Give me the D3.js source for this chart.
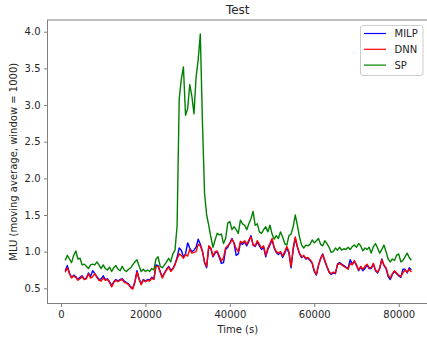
<!DOCTYPE html>
<html><head><meta charset="utf-8">
<script src="https://cdn.jsdelivr.net/npm/d3@7"></script>
<style>body{margin:0;background:#fff;} svg text{font-family:"DejaVu Sans",sans-serif;}</style>
</head><body><svg id="c" width="427" height="341"></svg>
<script>
const tStart = 1000, tStep = 500;
const milpValues = [
0.74,0.81,0.71,0.65,0.68,0.66,0.62,0.65,0.67,0.63,
0.64,0.71,0.66,0.74,0.70,0.66,0.62,0.63,0.67,0.62,
0.63,0.59,0.54,0.59,0.62,0.60,0.62,0.63,0.60,0.58,
0.56,0.52,0.50,0.59,0.74,0.63,0.56,0.62,0.60,0.62,
0.61,0.65,0.63,0.82,0.81,0.73,0.65,0.71,0.76,0.80,
0.75,0.77,0.83,0.92,1.05,1.02,0.93,0.97,1.12,1.05,
1.00,1.02,1.06,1.17,1.10,1.01,0.85,0.78,1.06,1.04,
0.93,0.98,1.00,0.92,0.84,0.85,1.03,1.06,1.12,1.18,
1.11,0.95,0.97,1.12,1.10,1.13,1.08,1.14,1.22,1.09,
1.07,1.13,1.08,1.03,1.06,0.93,1.03,1.09,1.16,1.05,
0.99,0.96,0.99,0.92,0.98,1.05,0.98,0.78,1.03,1.18,
1.06,0.97,0.92,0.94,0.90,0.91,0.88,0.84,0.73,0.68,
0.81,0.91,0.97,0.87,0.79,0.72,0.69,0.71,0.70,0.83,
0.85,0.83,0.81,0.79,0.77,0.89,0.83,0.87,0.81,0.74,
0.79,0.74,0.77,0.82,0.77,0.77,0.83,0.74,0.71,0.77,
0.90,0.81,0.77,0.66,0.62,0.69,0.73,0.70,0.67,0.65,
0.76,0.76,0.71,0.78,0.75];
const dnnValues = [
0.72,0.78,0.70,0.64,0.67,0.65,0.61,0.63,0.66,0.62,
0.63,0.70,0.64,0.66,0.70,0.65,0.61,0.60,0.64,0.61,
0.62,0.58,0.52,0.58,0.61,0.59,0.61,0.62,0.58,0.57,
0.55,0.51,0.49,0.58,0.72,0.62,0.55,0.61,0.59,0.61,
0.60,0.64,0.62,0.80,0.80,0.72,0.64,0.70,0.75,0.79,
0.73,0.76,0.82,0.90,0.97,0.95,0.91,0.96,0.94,1.03,
0.98,0.99,1.00,1.10,1.08,1.00,0.86,0.80,1.08,1.05,
0.94,1.00,1.01,0.94,0.87,0.92,1.05,1.08,1.11,1.17,
1.12,1.04,1.00,1.14,1.12,1.15,1.10,1.16,1.20,1.10,
1.08,1.15,1.10,1.05,1.08,0.95,1.05,1.11,1.18,1.06,
1.00,0.98,1.00,0.94,1.00,1.07,1.00,0.80,1.05,1.20,
1.07,0.98,0.93,0.95,0.91,0.92,0.89,0.85,0.74,0.69,
0.82,0.90,0.96,0.88,0.80,0.73,0.70,0.72,0.71,0.82,
0.84,0.82,0.80,0.78,0.76,0.84,0.82,0.88,0.82,0.75,
0.80,0.76,0.80,0.83,0.78,0.78,0.84,0.75,0.72,0.78,
0.89,0.82,0.78,0.68,0.64,0.70,0.74,0.71,0.68,0.66,
0.71,0.75,0.72,0.76,0.72];
const spValues = [
0.88,0.95,0.90,0.85,0.95,1.01,0.90,0.91,0.82,0.83,
0.80,0.77,0.82,0.83,0.82,0.86,0.82,0.77,0.82,0.77,
0.75,0.79,0.73,0.78,0.81,0.76,0.74,0.80,0.75,0.73,
0.76,0.78,0.82,0.86,0.89,0.80,0.73,0.76,0.73,0.75,
0.73,0.77,0.75,0.90,0.93,0.80,0.78,0.82,0.86,0.91,
0.86,0.97,1.02,1.35,3.08,3.35,3.52,2.86,2.95,3.28,
3.12,2.88,3.38,3.62,3.97,2.78,1.80,1.50,1.36,1.20,
1.06,1.16,1.25,1.23,1.24,1.11,1.18,1.39,1.41,1.30,
1.34,1.30,1.25,1.43,1.38,1.36,1.30,1.38,1.45,1.55,
1.36,1.38,1.27,1.25,1.30,1.34,1.27,1.36,1.24,1.17,
1.22,1.18,1.27,1.20,1.11,1.09,1.22,1.24,1.34,1.50,
1.36,1.20,1.09,1.05,1.09,1.08,1.10,1.16,1.12,1.15,
1.18,1.10,1.08,1.15,1.11,1.06,0.99,1.00,1.05,1.02,
1.06,1.02,1.04,1.03,1.06,1.03,1.07,1.09,1.06,1.11,
1.08,1.01,1.05,1.03,1.06,0.98,1.07,1.11,1.05,0.98,
1.03,1.09,1.00,0.90,0.86,0.90,0.88,0.95,0.97,0.86,
0.88,0.93,0.98,0.92,0.88];
const xTicks = [0, 20000, 40000, 60000, 80000];
const yTicks = [0.5, 1.0, 1.5, 2.0, 2.5, 3.0, 3.5, 4.0];
const seriesNames = ["MILP", "DNN", "SP"];
const seriesColors = ["#0000ff", "#ff0000", "#008000"];
const titleText = "Test";
const xLabel = "Time (s)";
const yLabel = "MLU (moving average, window = 1000)";

const L = 47.5, T = 20, R = 428, B = 303.5;
const svg = d3.select("#c");
const x = d3.scaleLinear().domain([-3200, 86940]).range([L, R]);
const y = d3.scaleLinear().domain([0.293, 4.16]).range([B, T]);

const series = [milpValues, dnnValues, spValues];
const line = d3.line().x((d, i) => x(tStart + i * tStep)).y(d => y(d));
series.forEach((vals, si) => {
  svg.append("path").datum(vals).attr("d", line)
    .attr("fill", "none").attr("stroke", seriesColors[si])
    .attr("stroke-width", 1.4).attr("stroke-linejoin", "round");
});

const textCol = "#262626", spineCol = "#808080";
const xAxis = svg.append("g").attr("transform", `translate(0,${B})`)
  .call(d3.axisBottom(x).tickValues(xTicks).tickFormat(d3.format("d")).tickSize(3.5).tickPadding(3.5));
const yAxis = svg.append("g").attr("transform", `translate(${L},0)`)
  .call(d3.axisLeft(y).tickValues(yTicks).tickFormat(d3.format(".1f")).tickSize(3.5).tickPadding(3.5));
[xAxis, yAxis].forEach(a => {
  a.select(".domain").remove();
  a.selectAll(".tick line").attr("stroke", spineCol);
  a.selectAll(".tick text").attr("fill", textCol).style("font-size", "10px").style("font-family", "DejaVu Sans");
});

svg.append("rect").attr("x", L).attr("y", T).attr("width", R - L).attr("height", B - T)
  .attr("fill", "none").attr("stroke", spineCol).attr("stroke-width", 1);

svg.append("text").attr("x", (L + R) / 2).attr("y", 14).attr("text-anchor", "middle")
  .attr("fill", textCol).style("font-size", "12px").text(titleText);
svg.append("text").attr("x", (L + R) / 2).attr("y", 333).attr("text-anchor", "middle")
  .attr("fill", textCol).style("font-size", "10px").text(xLabel);
svg.append("text").attr("transform", `translate(17,${(T + B) / 2}) rotate(-90)`)
  .attr("text-anchor", "middle").attr("fill", textCol).style("font-size", "10px").text(yLabel);

const lg = svg.append("g");
lg.append("rect").attr("x", 360.5).attr("y", 25.5).attr("width", 62.5).attr("height", 50)
  .attr("rx", 2.5).attr("fill", "#fff").attr("fill-opacity", 0.8).attr("stroke", "#cccccc");
seriesNames.forEach((n, i) => {
  const cy = 33.5 + i * 15.8;
  lg.append("line").attr("x1", 364).attr("x2", 386).attr("y1", cy).attr("y2", cy)
    .attr("stroke", seriesColors[i]).attr("stroke-width", 1.2);
  lg.append("text").attr("x", 394.5).attr("y", cy + 3.6).attr("fill", textCol)
    .style("font-size", "10px").text(n);
});
</script></body></html>
